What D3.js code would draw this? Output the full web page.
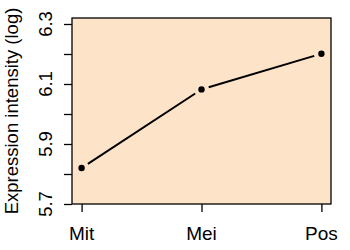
<!DOCTYPE html>
<html>
<head>
<meta charset="utf-8">
<script src="https://cdn.jsdelivr.net/npm/d3@7/dist/d3.min.js"></script>
<style>
  body { margin:0; background:#fff; }
  text { font-family: "Liberation Sans", Arial, sans-serif; fill:#000; }
</style>
</head>
<body>
<div id="chart"></div>
<script>
	// data
	var stages = ["Mit", "Mei", "Pos"];
	var values = [5.82, 6.082, 6.201];
	var yTicks = [5.7, 5.8, 5.9, 6.0, 6.1, 6.2, 6.3];
	var yLabels = [5.7, 5.9, 6.1, 6.3];
	var yTitle = "Expression intensity (log)";

	var W = 350, H = 250;
	var box = {left:72, right:331, top:18, bottom:204};

	var svg = d3.select('#chart').append('svg')
		.attr('width', W)
		.attr('height', H);

	var x = d3.scalePoint()
		.domain(stages)
		.range([box.left, box.right])
		.padding(0.08);

	var y = d3.scaleLinear()
		.domain([5.7, 6.32])
		.range([box.bottom, box.top]);

	// panel background
	svg.append('rect')
		.attr('x', box.left)
		.attr('y', box.top)
		.attr('width', box.right - box.left)
		.attr('height', box.bottom - box.top)
		.attr('fill', '#fde4c8')
		.attr('stroke', '#000')
		.attr('stroke-width', 1.3);

	// y axis ticks
	var yAxis = d3.axisLeft(y)
		.tickValues(yTicks)
		.tickSize(8)
		.tickFormat('');
	var ga = svg.append('g')
		.attr('transform', 'translate(' + box.left + ',0)')
		.call(yAxis);
	ga.select('.domain').remove();
	ga.selectAll('line').attr('stroke', '#000').attr('stroke-width', 1.3);

	svg.selectAll('.ylab')
		.data(yLabels)
		.enter().append('text')
		.attr('class', 'ylab')
		.attr('transform', function(d){ return 'translate(51.5,' + y(d) + ') rotate(-90)'; })
		.attr('text-anchor', 'middle')
		.attr('font-size', '18.5px')
		.text(function(d){ return d3.format('.1f')(d); });

	// x axis ticks
	var xAxis = d3.axisBottom(x)
		.tickSize(8)
		.tickFormat('');
	var gx = svg.append('g')
		.attr('transform', 'translate(0,' + box.bottom + ')')
		.call(xAxis);
	gx.select('.domain').remove();
	gx.selectAll('line').attr('stroke', '#000').attr('stroke-width', 1.3);

	svg.selectAll('.xlab')
		.data(stages)
		.enter().append('text')
		.attr('class', 'xlab')
		.attr('x', function(d){ return x(d); })
		.attr('y', 240)
		.attr('text-anchor', 'middle')
		.attr('font-size', '19px')
		.text(function(d){ return d; });

	svg.append('text')
		.attr('transform', 'translate(18,' + ((box.top + box.bottom) / 2) + ') rotate(-90)')
		.attr('text-anchor', 'middle')
		.attr('font-size', '18.5px')
		.text(yTitle);

	// line segments with gaps around the points (type "b")
	var pts = stages.map(function(s, i){ return [x(s), y(values[i])]; });
	var gap = 7.5;
	for (var i = 0; i < pts.length - 1; i++) {
		var a = pts[i], b = pts[i+1];
		var dx = b[0] - a[0], dy = b[1] - a[1];
		var len = Math.sqrt(dx*dx + dy*dy);
		var ux = dx / len, uy = dy / len;
		svg.append('line')
			.attr('x1', a[0] + ux*gap)
			.attr('y1', a[1] + uy*gap)
			.attr('x2', b[0] - ux*gap)
			.attr('y2', b[1] - uy*gap)
			.attr('stroke', '#000')
			.attr('stroke-width', 2);
	}

	svg.selectAll('.pt')
		.data(values)
		.enter().append('circle')
		.attr('class', 'pt')
		.attr('cx', function(d, i){ return x(stages[i]); })
		.attr('cy', function(d){ return y(d); })
		.attr('r', 3.2)
		.attr('fill', '#000');
</script>
</body>
</html>
